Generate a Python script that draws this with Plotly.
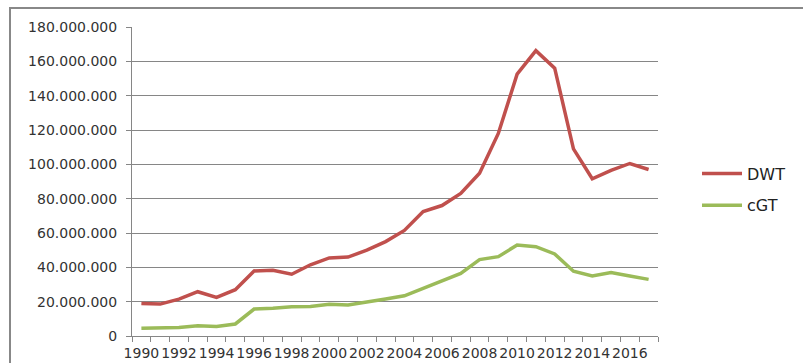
import plotly.graph_objects as go

years = list(range(1990, 2018))
dwt = [19.0, 18.6, 21.5, 25.8, 22.5, 27.0, 37.9, 38.3, 36.0, 41.5, 45.5, 46.0, 50.0, 55.0,
       61.5, 72.5, 76.0, 83.0, 94.8, 118.0, 152.5, 166.2, 156.0, 109.0, 91.6, 96.5, 100.5, 97.0]
cgt = [4.5, 4.5, 5.0, 6.0, 5.5, 7.0, 15.7, 16.2, 17.0, 17.2, 18.5, 18.0, 20.0, 21.5,
       23.4, 27.8, 32.4, 36.5, 44.5, 46.2, 53.0, 52.0, 47.8, 37.7, 35.0, 37.0, 35.0, 33.0]
dwt = [v * 1e6 for v in dwt]
cgt = [v * 1e6 for v in cgt]
tick_years = list(range(1990, 2017, 2))

fig = go.Figure()
fig.add_trace(go.Scatter(x=years, y=dwt, name="DWT", mode="lines", legendgroup="a",
                         line=dict(color="#C0504D", width=3.5)))
fig.add_trace(go.Scatter(x=years, y=cgt, name="cGT", mode="lines", legendgroup="b",
                         line=dict(color="#9BBB59", width=3.5)))

L, R, T, B = 132, 145, 27, 27
W, H = 803, 363
pw, ph = W - L - R, H - T - B

fig.update_layout(
    width=W, height=H,
    margin=dict(l=L, r=R, t=T, b=B, autoexpand=False),
    paper_bgcolor="white", plot_bgcolor="white",
    separators=",.",
    font=dict(family="DejaVu Sans", size=14, color="#333"),
    showlegend=True,
    legend=dict(x=(697 - L) / pw, xanchor="left", y=(336 - 189.5) / ph, yanchor="middle",
                font=dict(size=16, color="#222"), tracegroupgap=8, itemwidth=40,
                bgcolor="rgba(0,0,0,0)"),
    xaxis=dict(range=[1989.5, 2017.5], tickmode="array", tickvals=tick_years,
               ticktext=[str(y) for y in tick_years], ticks="", showgrid=False,
               showline=True, linecolor="#868686", linewidth=1, zeroline=False,
               automargin=False, ticklabelstandoff=4, tickangle=0,
               tickfont=dict(size=14),
               minor=dict(tick0=1989.5, dtick=1, ticks="outside", ticklen=5,
                          tickcolor="#868686", showgrid=False)),
    yaxis=dict(range=[0, 180e6], dtick=20e6, tickformat=",d", showgrid=True,
               gridcolor="#868686", gridwidth=1, showline=True, linecolor="#868686",
               linewidth=1, zeroline=False, ticks="outside", ticklen=5,
               automargin=False, ticklabelstandoff=6,
               tickcolor="#868686", tickfont=dict(size=14)),
    shapes=[dict(type="rect", xref="paper", yref="paper",
                 x0=(10 - L) / pw, x1=(W + 10 - L) / pw,
                 y0=-(B + 10) / ph, y1=(336 - 8) / ph,
                 line=dict(color="#888888", width=2), fillcolor="rgba(0,0,0,0)",
                 layer="below")],
)

fig.write_html("out.html")
